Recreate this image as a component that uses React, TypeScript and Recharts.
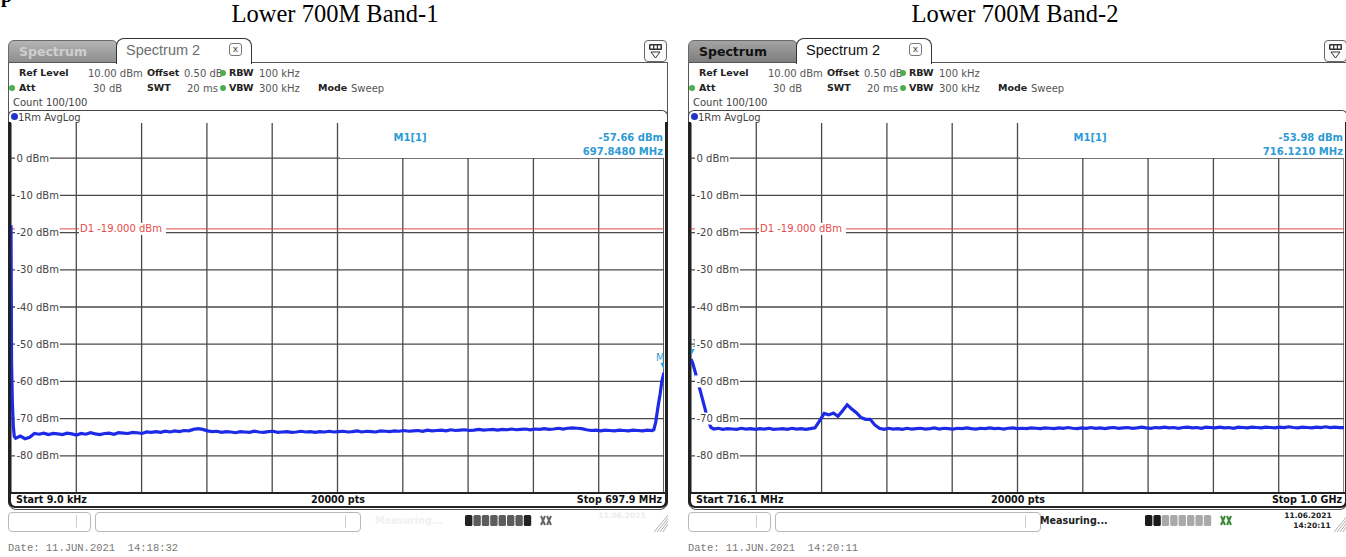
import React from 'react';
import { LineChart, Line, XAxis, YAxis, CartesianGrid, ReferenceLine, ReferenceDot } from 'recharts';

// ---------------- data ----------------
const band1Title = 'Lower 700M Band-1';
const band2Title = 'Lower 700M Band-2';

const levelTicks = [0, -10, -20, -30, -40, -50, -60, -70, -80];
const levelDomain: [number, number] = [-90, 10];
const displayLineLevel = -19;
const displayLineText = 'D1  -19.000 dBm';
const gridDivisions = 10;

// Band 1 : 9 kHz .. 697.9 MHz
const band1Span: [number, number] = [0.009, 697.9];
const band1HeadFreq = [0.009, 0.6, 1.5, 2.5, 3.5];
const band1HeadLevel = [-18.0, -55.0, -66.0, -72.0, -74.8];
const band1BodyFirst = 5;
const band1BodyStep = 5;
const band1BodyLevel = [
  -75.3, -74.7, -75.4, -75.0, -74.0, -74.2, -73.9, -74.3, -74.0, -74.1,
  -74.3, -73.9, -74.1, -74.4, -74.0, -74.2, -73.8, -74.1, -74.3, -74.0,
  -73.9, -74.2, -73.8, -73.9, -74.0, -73.7, -73.8, -74.0, -73.6, -73.7,
  -73.5, -73.7, -73.4, -73.6, -73.3, -73.5, -73.2, -73.3, -72.9, -72.7,
  -72.9, -73.3, -73.5, -73.4, -73.7, -73.5, -73.6, -73.8, -73.5, -73.6,
  -73.7, -73.4, -73.6, -73.7, -73.5, -73.4, -73.7, -73.6, -73.5, -73.7,
  -73.6, -73.4, -73.6, -73.5, -73.7, -73.5, -73.6, -73.4, -73.6, -73.5,
  -73.4, -73.6, -73.5, -73.3, -73.6, -73.4, -73.5, -73.6, -73.3, -73.4,
  -73.5, -73.3, -73.4, -73.2, -73.4, -73.3, -73.2, -73.4, -73.1, -73.3,
  -73.2, -73.1, -73.3, -73.0, -73.2, -73.1, -73.0, -73.2, -73.1, -72.9,
  -73.1, -73.0, -72.9, -73.1, -72.9, -73.0, -72.8, -73.0, -72.9, -72.8,
  -73.0, -72.8, -72.9, -72.7, -72.9, -72.8, -72.6, -72.8, -72.6, -72.5,
  -72.6, -72.7, -73.0, -73.2, -73.1, -73.3, -73.1, -73.2, -73.3, -73.1,
  -73.2, -73.3, -73.1, -73.2, -73.3, -73.1, -73.2,
];
const band1TailFreq = [687, 689, 690.5, 692, 693.7, 695.6, 697.848];
const band1TailLevel = [-73.0, -71.0, -68.5, -66.0, -63.5, -60.0, -57.66];
const band1MarkerFreq = 697.848;
const band1MarkerLevel = -57.66;
const band1MarkerTexts = ['-57.66 dBm', '697.8480 MHz'];
const band1StartText = 'Start 9.0 kHz';
const band1StopText = 'Stop 697.9 MHz';
const band1Date = 'Date: 11.JUN.2021  14:18:32';

// Band 2 : 716.1 MHz .. 1.0 GHz
const band2Span: [number, number] = [716.1, 1000];
const band2HeadFreq = [716.121, 716.9, 718.7, 720.6, 722.3, 723.5, 724.8];
const band2HeadLevel = [-53.98, -55.2, -59.2, -63.6, -67.6, -70.6, -72.4];
const band2BodyFirst = 726;
const band2BodyStep = 2;
const band2BodyLevel = [
  -72.8, -72.6, -72.9, -72.7, -72.8, -72.9, -72.6, -72.8, -72.7, -72.9,
  -72.7, -72.8, -72.6, -72.9, -72.8, -72.7, -72.9, -72.6, -72.8, -72.7,
  -72.9, -72.7, -72.5, -70.6, -68.6, -69.0, -68.5, -69.4, -67.9, -66.3,
  -67.4, -68.4, -69.7, -70.2, -70.2, -71.7, -72.6, -72.9, -72.6, -72.8,
  -72.7, -72.9, -72.6, -72.8, -72.7, -72.6, -72.8, -72.7, -72.5, -72.8,
  -72.6, -72.7, -72.8, -72.6, -72.7, -72.5, -72.7, -72.8, -72.6, -72.7,
  -72.5, -72.7, -72.6, -72.8, -72.6, -72.5, -72.7, -72.6, -72.7, -72.5,
  -72.6, -72.7, -72.5, -72.6, -72.7, -72.5, -72.6, -72.4, -72.6, -72.7,
  -72.5, -72.6, -72.4, -72.6, -72.5, -72.7, -72.5, -72.4, -72.6, -72.5,
  -72.4, -72.6, -72.5, -72.3, -72.5, -72.6, -72.4, -72.5, -72.3, -72.5,
  -72.4, -72.6, -72.4, -72.3, -72.5, -72.4, -72.6, -72.3, -72.4, -72.5,
  -72.3, -72.5, -72.4, -72.6, -72.3, -72.4, -72.5, -72.3, -72.4, -72.5,
  -72.3, -72.4, -72.5, -72.3, -72.4, -72.2, -72.4, -72.5, -72.3, -72.4,
  -72.5, -72.3, -72.4, -72.2, -72.4, -72.3, -72.4,
];
const band2TailFreq = [1000];
const band2TailLevel = [-72.4];
const band2MarkerFreq = 716.121;
const band2MarkerLevel = -53.98;
const band2MarkerTexts = ['-53.98 dBm', '716.1210 MHz'];
const band2StartText = 'Start 716.1 MHz';
const band2StopText = 'Stop 1.0 GHz';
const band2Date = 'Date: 11.JUN.2021  14:20:11';

const pointsText = '20000 pts';

// ---------------- helpers ----------------
type Pt = { f: number; v: number };
function buildTrace(hf: number[], hl: number[], first: number, step: number, bl: number[], tf: number[], tl: number[]): Pt[] {
  const head = hf.map((f, i) => ({ f, v: hl[i] }));
  const body = bl.map((v, i) => ({ f: first + i * step, v }));
  const tail = tf.map((f, i) => ({ f, v: tl[i] }));
  return [...head, ...body, ...tail];
}

const band1Data = buildTrace(band1HeadFreq, band1HeadLevel, band1BodyFirst, band1BodyStep, band1BodyLevel, band1TailFreq, band1TailLevel);
const band2Data = buildTrace(band2HeadFreq, band2HeadLevel, band2BodyFirst, band2BodyStep, band2BodyLevel, band2TailFreq, band2TailLevel);

const SANS = '"DejaVu Sans", Verdana, sans-serif';
const SERIF = '"Liberation Serif", "Times New Roman", serif';
const MONO = '"Liberation Mono", "DejaVu Sans Mono", monospace';
const MARK = '#2e9bd6';
const TRACE = '#1e2be6';
const GRID = '#4a4a4a';
const RED = '#e34c4c';

const PLOT_W = 653;
const PLOT_H = 372;
const PLOT_TOP = 121;

type TxtProps = { x: number; y: number; children: React.ReactNode; bold?: boolean; color?: string; size?: number; anchor?: 'start' | 'middle' | 'end'; family?: string };
function Txt({ x, y, children, bold, color = '#555', size = 10, anchor = 'start', family = SANS }: TxtProps) {
  const lh = Math.round(size * 1.3);
  const style: React.CSSProperties = {
    position: 'absolute', left: x, top: y - lh / 2, fontFamily: family, fontSize: size,
    fontWeight: bold ? 'bold' : 'normal', color, whiteSpace: 'pre', lineHeight: `${lh}px`,
  };
  if (anchor === 'middle') style.transform = 'translateX(-50%)';
  if (anchor === 'end') style.transform = 'translateX(-100%)';
  return <div style={style}>{children}</div>;
}

function Box(props: { l: number; t: number; w: number; h: number; style?: React.CSSProperties; children?: React.ReactNode }) {
  return <div style={{ position: 'absolute', left: props.l, top: props.t, width: props.w, height: props.h, boxSizing: 'border-box', ...props.style }}>{props.children}</div>;
}

const LevelTick = (props: any) => {
  const { x, y, payload } = props;
  const val = payload.value as number;
  const label = `${val} dBm`;
  const digits = String(Math.abs(val)).length;
  const w = 26.5 + digits * 6.36 + (val < 0 ? 3.6 : 0) + 2;
  return (
    <g>
      <rect x={x + 4} y={y - 6} width={w} height={12} fill="#fff" />
      <text x={x + 5.5} y={y} dy="0.36em" fontSize={10} fontFamily={SANS} fill="#444">{label}</text>
    </g>
  );
};

const D1Label = (props: any) => {
  const vb = props.viewBox || {};
  const x = (vb.x ?? 0) + 68;
  const y = vb.y ?? 0;
  return (
    <g>
      <rect x={x} y={y - 6} width={87} height={12} fill="#fff" />
      <text x={x + 1} y={y} dy="0.36em" fontSize={10} fontFamily={SANS} fill={RED}>{displayLineText}</text>
    </g>
  );
};

const MarkerShape = (props: any) => {
  const { cx, cy } = props;
  if (cx == null || cy == null) return null;
  return (
    <g>
      <polygon points={`${cx - 3.5},${cy - 10} ${cx + 3.5},${cy - 10} ${cx},${cy - 3}`} fill={MARK} />
      <text x={cx - 8} y={cy - 12} fontSize={10} fontFamily={SANS} fill={MARK}>M1</text>
    </g>
  );
};

type PanelCfg = {
  ox: number; title: string; data: Pt[]; span: [number, number];
  markerFreq: number; markerLevel: number; markerTexts: string[];
  startText: string; stopText: string; date: string; variant: 'a' | 'b';
};

function DisplayIcon({ l }: { l: number }) {
  return (
    <Box l={l} t={40} w={23} h={22} style={{ border: '1px solid #666', borderRadius: 4, background: '#fafafa' }}>
      <svg width={21} height={20} style={{ position: 'absolute', left: 0, top: 0 }}>
        <rect x={4} y={3} width={13} height={6} fill="#333" rx={1} />
        <rect x={5.5} y={4.5} width={2.5} height={3} fill="#fff" />
        <rect x={9.3} y={4.5} width={2.5} height={3} fill="#fff" />
        <rect x={13} y={4.5} width={2.5} height={3} fill="#fff" />
        <polygon points="6,11 15,11 10.5,17" fill="none" stroke="#333" strokeWidth={1} />
      </svg>
    </Box>
  );
}

function Panel({ cfg }: { cfg: PanelCfg }) {
  const { ox, span } = cfg;
  const L = (x: number) => ox + x;
  const step = (span[1] - span[0]) / gridDivisions;
  const freqTicks = Array.from({ length: gridDivisions + 1 }, (_, i) => span[0] + i * step);
  const dark = cfg.variant === 'b';
  const dot = (x: number, y: number) => (
    <div style={{ position: 'absolute', left: x - 3, top: y - 3, width: 6, height: 6, borderRadius: 3, background: '#4cae4c' }} />
  );
  const LB = 9.5; // bold label size
  return (
    <>
      {/* chart */}
      <div style={{ position: 'absolute', left: L(11), top: PLOT_TOP, width: PLOT_W, height: PLOT_H }}>
        <LineChart width={PLOT_W} height={PLOT_H} data={cfg.data} margin={{ top: 0, right: 0, bottom: 0, left: 0 }}>
          <CartesianGrid stroke={GRID} strokeWidth={1.3} />
          <XAxis dataKey="f" type="number" domain={span} ticks={freqTicks} interval={0} hide allowDataOverflow />
          <YAxis type="number" domain={levelDomain} ticks={levelTicks} interval={0} mirror axisLine={false} tickLine={false} tickSize={0} tickMargin={0} tick={<LevelTick />} allowDataOverflow />
          <ReferenceLine y={displayLineLevel} stroke={RED} strokeWidth={1} label={<D1Label />} />
          <Line dataKey="v" type="linear" stroke={TRACE} strokeWidth={3.2} dot={false} isAnimationActive={false} />
          <ReferenceDot x={cfg.markerFreq} y={cfg.markerLevel} r={3} shape={<MarkerShape />} />
        </LineChart>
      </div>

      {/* marker info box */}
      <Box l={L(340)} t={PLOT_TOP} w={324} h={36.5} style={{ background: '#fff' }} />
      <Txt x={L(410)} y={137} anchor="middle" color={MARK} bold>M1[1]</Txt>
      <Txt x={L(663)} y={137} anchor="end" color={MARK} bold>{cfg.markerTexts[0]}</Txt>
      <Txt x={L(663)} y={151} anchor="end" color={MARK} bold>{cfg.markerTexts[1]}</Txt>

      {/* title */}
      <div style={{ position: 'absolute', left: L(335), top: 0, transform: 'translateX(-50%)', fontFamily: SERIF, fontSize: 24.5, lineHeight: '27px', color: '#000', whiteSpace: 'pre' }}>{cfg.title}</div>

      {/* tabs */}
      <Box l={L(8)} t={40} w={110} h={23} style={{
        background: dark ? 'linear-gradient(#a3a3a3, #7e7e7e)' : 'linear-gradient(#b4b4b4, #8e8e8e)',
        border: '1px solid #6a6a6a', borderRadius: '6px 6px 0 0',
      }}>
        <div style={{ position: 'absolute', left: 10, top: 3, fontFamily: SANS, fontSize: 12.5, fontWeight: 'bold', color: dark ? '#111' : '#cfcfcf' }}>Spectrum</div>
      </Box>
      <Box l={L(116)} t={38} w={136} h={26} style={{ background: '#fff', border: '1.5px solid #333', borderBottom: 'none', borderRadius: '8px 8px 0 0', zIndex: 2 }}>
        <div style={{ position: 'absolute', left: 9, top: 3, fontFamily: '"Liberation Sans", Arial, sans-serif', fontSize: 14.5, color: dark ? '#111' : '#6e6e6e' }}>Spectrum 2</div>
        <div style={{ position: 'absolute', left: 112, top: 4, width: 13, height: 13, border: '1px solid #777', borderRadius: 3, boxSizing: 'border-box', fontFamily: SANS, fontSize: 9, lineHeight: '11px', textAlign: 'center', color: '#444' }}>x</div>
      </Box>
      <DisplayIcon l={L(644)} />

      {/* outer frame */}
      <Box l={L(8)} t={62} w={660} h={448} style={{ border: '1px solid #555', borderRadius: '0 0 8px 8px' }} />

      {/* header */}
      <Txt x={L(19)} y={73} bold color="#222" size={LB}>Ref Level</Txt>
      <Txt x={L(88)} y={73}>10.00 dBm</Txt>
      <Txt x={L(147)} y={73} bold color="#222" size={LB}>Offset</Txt>
      <Txt x={L(184)} y={73}>0.50 dB</Txt>
      {dot(L(223), 73)}
      <Txt x={L(229)} y={73} bold color="#222" size={LB}>RBW</Txt>
      <Txt x={L(259)} y={73}>100 kHz</Txt>

      {dot(L(12), 88)}
      <Txt x={L(19)} y={88} bold color="#222" size={LB}>Att</Txt>
      <Txt x={L(93)} y={88}>30 dB</Txt>
      <Txt x={L(147)} y={88} bold color="#222" size={LB}>SWT</Txt>
      <Txt x={L(187)} y={88}>20 ms</Txt>
      {dot(L(223), 88)}
      <Txt x={L(229)} y={88} bold color="#222" size={LB}>VBW</Txt>
      <Txt x={L(259)} y={88}>300 kHz</Txt>
      <Txt x={L(318)} y={88} bold color="#222" size={LB}>Mode</Txt>
      <Txt x={L(351)} y={88}>Sweep</Txt>

      <Txt x={L(13)} y={102} color="#444">Count 100/100</Txt>

      {/* trace label bar */}
      <Box l={L(8)} t={110} w={660} h={13} style={{ border: '1px solid #444', borderBottom: 'none', borderRadius: '6px 6px 0 0', background: '#fff' }} />
      <div style={{ position: 'absolute', left: L(11), top: 113, width: 7, height: 7, borderRadius: 4, background: '#2233cc' }} />
      <Txt x={L(18)} y={117} color="#444">1Rm AvgLog</Txt>

      {/* diagram frame */}
      <Box l={L(8)} t={122} w={660} h={386} style={{ borderLeft: '3px solid #222', borderRight: '3px solid #222', borderBottom: '2.5px solid #222', borderRadius: '0 0 7px 7px' }} />
      <Box l={L(9)} t={492} w={658} h={2} style={{ background: '#222' }} />
      <Txt x={L(16)} y={500} bold color="#111" size={9.6}>{cfg.startText}</Txt>
      <Txt x={L(338)} y={500} bold color="#111" size={9.6} anchor="middle">{pointsText}</Txt>
      <Txt x={L(662)} y={500} bold color="#111" size={9.6} anchor="end">{cfg.stopText}</Txt>

      {/* status bar */}
      <Box l={L(8)} t={512} w={83} h={20} style={{ border: '1px solid #b8b8b8', borderRadius: 4 }} />
      <Box l={L(76)} t={515} w={1} h={13} style={{ background: '#d0d0d0' }} />
      <Box l={L(95)} t={512} w={266} h={20} style={{ border: '1px solid #b8b8b8', borderRadius: 4 }} />
      <Box l={L(345)} t={515} w={1} h={13} style={{ background: '#d0d0d0' }} />
      {dark ? (
        <Txt x={L(360)} y={521} bold color="#222" size={9.6}>Measuring...</Txt>
      ) : (
        <Txt x={L(375)} y={521} bold color="#f1f1f1" size={9.6}>Measuring...</Txt>
      )}
      <svg style={{ position: 'absolute', left: L(465), top: 515, overflow: 'visible' }} width={90} height={14}>
        {Array.from({ length: 8 }, (_, i) => (
          <rect key={i} x={i * 8.4} y={0} width={7.4} height={11} rx={1.5}
            fill={dark ? (i < 2 ? '#1a1a1a' : '#a9a9a9') : (i === 0 || i === 7 ? '#222' : '#5c5c5c')} />
        ))}
        <path d="M76 1 L80 10 M80 1 L76 10 M82 1 L86 10 M86 1 L82 10" stroke={dark ? '#3a8a3a' : '#666'} strokeWidth={2} />
      </svg>
      {dark ? (
        <>
          <Txt x={L(628)} y={516} bold color="#222" size={7.5} anchor="middle">11.06.2021</Txt>
          <Txt x={L(632)} y={526} bold color="#222" size={7.5} anchor="middle">14:20:11</Txt>
        </>
      ) : (
        <Txt x={L(622)} y={516} bold color="#ececec" size={7.5} anchor="middle">11.06.2021</Txt>
      )}
      <svg style={{ position: 'absolute', left: L(654), top: 511 }} width={14} height={21}>
        {[0, 3, 6, 9].map((d) => (
          <line key={d} x1={14} y1={4 + d} x2={4 + d - 4} y2={21} stroke="#b0b0b0" strokeWidth={1} />
        ))}
      </svg>

      {/* date line */}
      <Txt x={L(8)} y={548} color="#777" size={10.5} family={MONO}>{cfg.date}</Txt>
    </>
  );
}

const panels: PanelCfg[] = [
  { ox: 0, title: band1Title, data: band1Data, span: band1Span, markerFreq: band1MarkerFreq, markerLevel: band1MarkerLevel, markerTexts: band1MarkerTexts, startText: band1StartText, stopText: band1StopText, date: band1Date, variant: 'a' },
  { ox: 680, title: band2Title, data: band2Data, span: band2Span, markerFreq: band2MarkerFreq, markerLevel: band2MarkerLevel, markerTexts: band2MarkerTexts, startText: band2StartText, stopText: band2StopText, date: band2Date, variant: 'b' },
];

export default function App() {
  return (
    <div style={{ position: 'absolute', left: 0, top: 0, width: 1346, height: 557, overflow: 'hidden', background: '#fff' }}>
      <div style={{ position: 'absolute', left: 1, top: -15, fontFamily: SERIF, fontWeight: 'bold', fontSize: 20, lineHeight: '20px', color: '#000' }}>p</div>
      {panels.map((p) => <Panel key={p.ox} cfg={p} />)}
    </div>
  );
}
